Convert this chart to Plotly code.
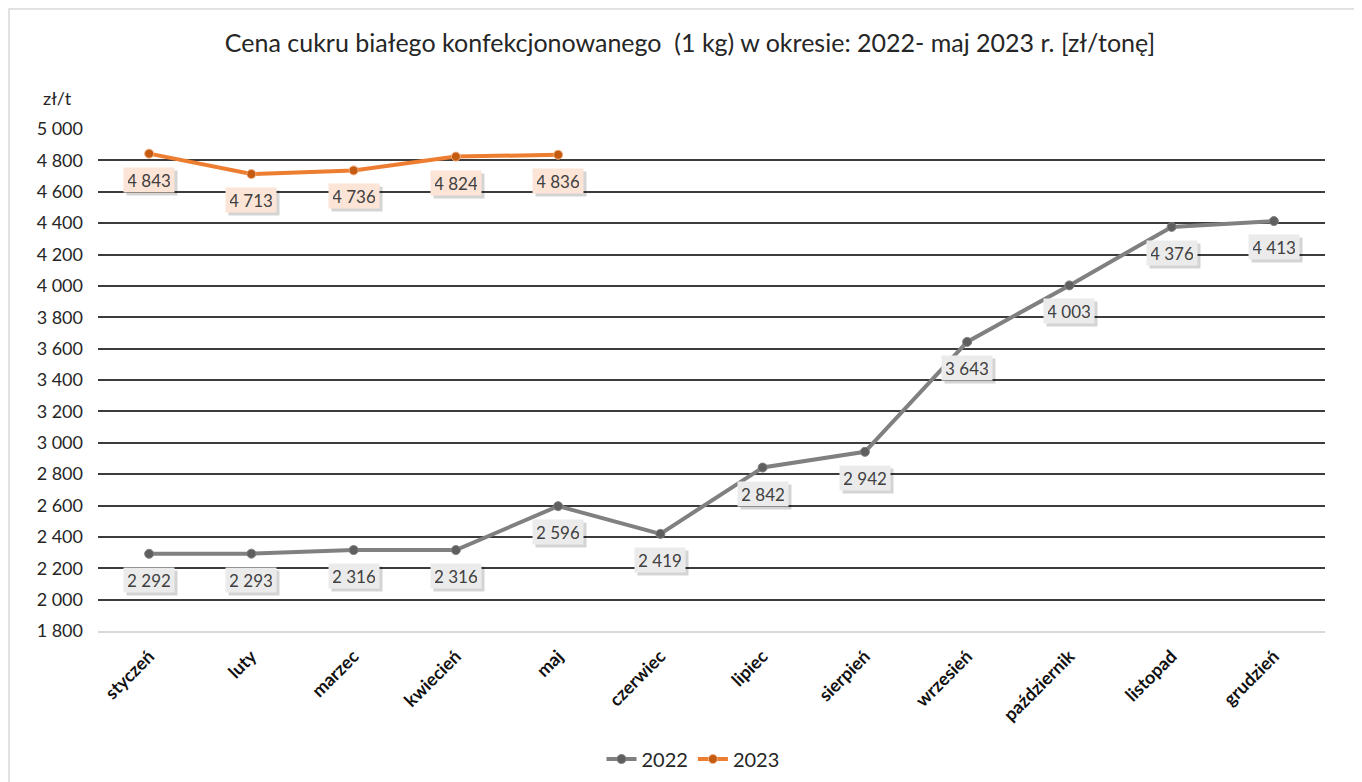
import plotly.graph_objects as go

months = ["styczeń", "luty", "marzec", "kwiecień", "maj", "czerwiec", "lipiec",
          "sierpień", "wrzesień", "październik", "listopad", "grudzień"]
prices_2022 = [2292, 2293, 2316, 2316, 2596, 2419, 2842, 2942, 3643, 4003, 4376, 4413]
months_2023 = months[:5]
prices_2023 = [4843, 4713, 4736, 4824, 4836]

y_ticks = list(range(1800, 5001, 200))

FONT = "Lato"
W, H = 1354, 774
ML, MT, MR, MB = 90, 121, 37, 151
PW, PH = W - ML - MR, H - MT - MB

def fmt(v):
    return f"{v:,}".replace(",", " ")

fig = go.Figure()
fig.add_trace(go.Scatter(
    x=months, y=prices_2022, name="2022", mode="lines+markers",
    line=dict(color="#808080", width=4),
    marker=dict(color="#5f5f5f", size=9, line=dict(color="#808080", width=1)),
))
fig.add_trace(go.Scatter(
    x=months_2023, y=prices_2023, name="2023", mode="lines+markers",
    line=dict(color="#ed7d31", width=4),
    marker=dict(color="#c55a11", size=9, line=dict(color="#f4b183", width=1)),
))

annotations = []
for xs, ys, bg in [(months, prices_2022, "#ebebeb"), (months_2023, prices_2023, "#fce4d6")]:
    for xv, yv in zip(xs, ys):
        # shadow box
        annotations.append(dict(
            x=xv, y=yv, xref="x", yref="y", text="\u00a0", showarrow=False,
            yshift=-29, xshift=3, width=42, height=16, borderpad=4,
            bgcolor="rgba(0,0,0,0.17)",
            font=dict(family=FONT, size=17, color="rgba(0,0,0,0)"),
        ))
        annotations.append(dict(
            x=xv, y=yv, xref="x", yref="y", text=fmt(yv), showarrow=False,
            yshift=-26, width=42, height=16, borderpad=4, bgcolor=bg,
            font=dict(family=FONT, size=17, color="#404040"),
        ))

annotations.append(dict(
    x=(57 - 8 - ML) / PW, y=(MT + PH - (98 - 8)) / PH, xref="paper", yref="paper",
    xanchor="center", yanchor="middle",
    text="zł/t", showarrow=False,
    font=dict(family=FONT, size=18, color="#262626"),
))

fig.update_layout(
    width=W, height=H,
    paper_bgcolor="white", plot_bgcolor="white",
    margin=dict(l=ML, r=MR, t=MT, b=MB, autoexpand=False),
    title=dict(
        text="Cena cukru białego konfekcjonowanego\u00a0 (1 kg) w okresie: 2022- maj 2023 r. [zł/tonę]",
        x=(690 - 8 - ML) / PW, xref="paper", xanchor="center",
        y=1 - (43 - 8) / H, yref="container", yanchor="middle",
        font=dict(family=FONT, size=25, color="#262626"),
    ),
    showlegend=True,
    legend=dict(
        orientation="h", x=(693 - 8 - ML) / PW, xanchor="center",
        y=(MT + PH - (759 - 8)) / PH, yanchor="middle",
        font=dict(family=FONT, size=20, color="#262626"),
        traceorder="normal",
    ),
    annotations=annotations,
    shapes=[dict(type="rect", xref="paper", yref="paper",
                 x0=(1 - ML) / PW, x1=1.2, y0=-0.5, y1=(MT + PH - 1) / PH,
                 line=dict(color="#d9d9d9", width=1.5), fillcolor="rgba(0,0,0,0)",
                 layer="below")],
)

fig.update_xaxes(
    type="category", categoryorder="array", categoryarray=months,
    range=[-0.5, len(months) - 0.5],
    tickangle=-45, tickfont=dict(family=FONT, size=18, color="#111111", weight="bold"),
    showgrid=False, showline=True, linecolor="#d9d9d9", linewidth=1.5,
    ticks="", ticklabelstandoff=6,
)
fig.update_yaxes(
    range=[1800, 5000], tickvals=y_ticks, ticktext=[fmt(v) for v in y_ticks],
    tickfont=dict(family=FONT, size=18, color="#262626"),
    showgrid=True, gridcolor="#3c3c3c", gridwidth=1.6,
    zeroline=False, showline=False, ticks="", ticklabelstandoff=14,
)

fig.write_html("out.html")
